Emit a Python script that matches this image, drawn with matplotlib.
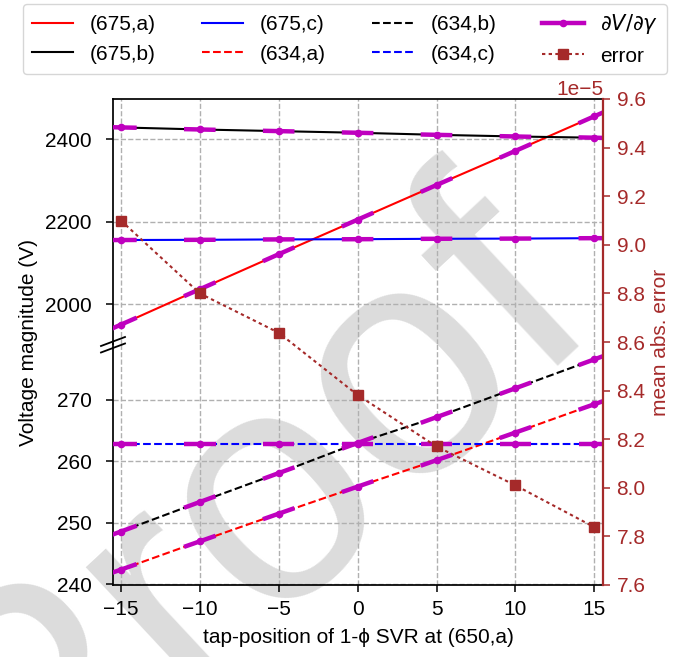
import matplotlib
matplotlib.use("Agg")
import matplotlib.pyplot as plt
from matplotlib.lines import Line2D
import numpy as np

plt.rcParams['font.family'] = ['Liberation Sans', 'DejaVu Sans']
plt.rcParams['font.size'] = 15
plt.rcParams['mathtext.fontset'] = 'dejavusans'
plt.rcParams['axes.linewidth'] = 1.25

# ---------------- data ----------------
taps = [-15, -10, -5, 0, 5, 10, 15]

v675a = [1950, 2036, 2121, 2205, 2289, 2372, 2456]
v675b = [2429, 2424, 2420, 2416, 2411, 2407, 2404]
v675c = [2155.5, 2156, 2157, 2157.5, 2158.5, 2159, 2160]
v634a = [242.4, 247.0, 251.5, 255.9, 260.2, 264.7, 269.3]
v634b = [248.6, 253.4, 258.1, 263.0, 267.2, 271.9, 276.6]
v634c = [262.9, 262.9, 262.9, 262.9, 262.9, 262.9, 262.9]

# sensitivities dV/dgamma (V per tap) at each tap position
d675a = [16.9, 16.9, 16.9, 16.8, 16.8, 16.8, 16.9]
d675b = [-0.85, -0.85, -0.83, -0.83, -0.83, -0.8, -0.8]
d675c = [0.15, 0.15, 0.15, 0.15, 0.15, 0.15, 0.15]
d634a = [0.9, 0.9, 0.9, 0.89, 0.89, 0.9, 0.9]
d634b = [0.94, 0.94, 0.94, 0.93, 0.93, 0.94, 0.94]
d634c = [0.0, 0.0, 0.0, 0.0, 0.0, 0.0, 0.0]

err = [9.10e-5, 8.80e-5, 8.638e-5, 8.382e-5, 8.17e-5, 8.01e-5, 7.838e-5]

BROWN = '#a52a2a'
MAG = 'm'

# ---------------- figure ----------------
W, H = 686, 657
fig = plt.figure(figsize=(W / 100, H / 100), dpi=100)

left = 113 / W
width = (603 - 113) / W
y_top = 1 - 99 / H
y_split = 1 - 344 / H
y_bot = 1 - 585 / H

ax_t = fig.add_axes([left, y_split, width, y_top - y_split], facecolor='none')
ax_b = fig.add_axes([left, y_bot, width, y_split - y_bot], facecolor='none', sharex=ax_t)
ax_e = fig.add_axes([left, y_bot, width, y_top - y_bot], facecolor='none')

# watermark
fig.text(0.450, 0.128, 'Proof', rotation=43, rotation_mode='anchor',
         ha='center', va='baseline', fontsize=237, color='#dcdcdc',
         family='Liberation Sans', zorder=-1)


def draw_series(ax, vals, ders, color, ls):
    ax.plot(taps, vals, color=color, ls=ls, lw=1.5, zorder=2)
    for t, v, d in zip(taps, vals, ders):
        ax.plot([t - 1, t, t + 1], [v - d, v, v + d], color=MAG, lw=3.2,
                marker='o', ms=4.5, markevery=[1], zorder=3,
                solid_capstyle='butt')


draw_series(ax_t, v675a, d675a, 'r', '-')
draw_series(ax_t, v675b, d675b, 'k', '-')
draw_series(ax_t, v675c, d675c, 'b', '-')
draw_series(ax_b, v634a, d634a, 'r', '--')
draw_series(ax_b, v634b, d634b, 'k', '--')
draw_series(ax_b, v634c, d634c, 'b', '--')

ax_t.set_xlim(-15.5, 15.55)
ax_t.set_ylim(1903, 2498)
ax_b.set_ylim(239.9, 279.1)
ax_t.set_yticks([2000, 2200, 2400])
ax_b.set_yticks([240, 250, 260, 270])
ax_b.set_xticks(taps)

for ax in (ax_t, ax_b):
    ax.grid(True, color='#b0b0b0', ls='--', lw=1.0)
    ax.spines['right'].set_visible(False)
    ax.tick_params(axis='y', length=5.3, width=1.1, labelsize=15, pad=10)
ax_t.spines['bottom'].set_visible(False)
ax_b.spines['top'].set_visible(False)
ax_t.tick_params(axis='x', bottom=False, labelbottom=False)
ax_b.tick_params(axis='x', length=5.3, width=1.1, labelsize=15, pad=5.4)

ax_b.set_xlabel('tap-position of 1-ϕ SVR at (650,a)', fontsize=15, labelpad=6.5)
fig.text(0.041, (y_top + y_bot) / 2, 'Voltage magnitude (V)', rotation=90,
         ha='center', va='center', fontsize=15)

# error axis
ax_e.plot(taps, err, color=BROWN, ls=(0, (1.6, 1.6)), lw=1.5, marker='s', ms=7)
ax_e.set_xlim(-15.5, 15.55)
ax_e.set_ylim(7.6e-5, 9.6e-5)
ax_e.set_yticks([7.6e-5, 7.8e-5, 8.0e-5, 8.2e-5, 8.4e-5, 8.6e-5, 8.8e-5, 9.0e-5, 9.2e-5, 9.4e-5, 9.6e-5])
ax_e.yaxis.tick_right()
ax_e.yaxis.set_label_position('right')
ax_e.tick_params(axis='x', bottom=False, labelbottom=False)
ax_e.tick_params(axis='y', colors=BROWN, length=4.8, width=1.1, labelsize=15, pad=5)
for s in ('left', 'top', 'bottom'):
    ax_e.spines[s].set_visible(False)
ax_e.spines['right'].set_color(BROWN)
ax_e.spines['right'].set_linewidth(1.6)
ax_e.yaxis.get_offset_text().set_color(BROWN)
ax_e.yaxis.get_offset_text().set_fontsize(15)
ax_e.set_ylabel('mean abs. error', color=BROWN, fontsize=15)

# break marks
for cy in (341.5, 348.0):
    fig.add_artist(Line2D([101 / W, 125 / W], [1 - (cy + 4.5) / H, 1 - (cy - 4.5) / H],
                          color='k', lw=1.3, transform=fig.transFigure))

# legend
handles = [
    Line2D([], [], color='r', ls='-', lw=1.5),
    Line2D([], [], color='k', ls='-', lw=1.5),
    Line2D([], [], color='b', ls='-', lw=1.5),
    Line2D([], [], color='r', ls='--', lw=1.5),
    Line2D([], [], color='k', ls='--', lw=1.5),
    Line2D([], [], color='b', ls='--', lw=1.5),
    Line2D([], [], color=MAG, lw=3.2, marker='o', ms=4.5),
    Line2D([], [], color=BROWN, ls=(0, (1.6, 1.6)), lw=1.5, marker='s', ms=7),
]
labels = ['(675,a)', '(675,b)', '(675,c)', '(634,a)', '(634,b)', '(634,c)',
          r'$\partial V/\partial\gamma$', 'error']
fig.legend(handles, labels, loc='upper center', bbox_to_anchor=(0.503, 0.994),
           borderaxespad=0, ncol=4, fontsize=15, columnspacing=2.2)

fig.savefig('out.png', dpi=100)
